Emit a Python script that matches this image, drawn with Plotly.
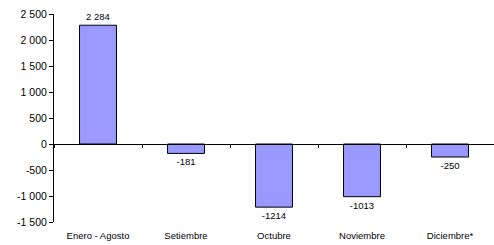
import plotly.graph_objects as go

categories = ["Enero - Agosto", "Setiembre", "Octubre", "Noviembre", "Diciembre*"]
values = [2284, -181, -1214, -1013, -250]
value_labels = ["2 284", "-181", "-1214", "-1013", "-250"]
y_tickvals = [-1500, -1000, -500, 0, 500, 1000, 1500, 2000, 2500]
y_ticktext = ["-1 500", "-1 000", "-500", "0", "500", "1 000", "1 500", "2 000", "2 500"]

y_min, y_max = -1500, 2500
zero_pos = (0 - y_min) / (y_max - y_min)

fig = go.Figure()
fig.add_trace(go.Bar(
    x=categories, y=values, text=value_labels, textposition="outside",
    textfont=dict(family="Liberation Sans, Arial", size=9.5, color="#000000"),
    marker=dict(color="#9999FF", line=dict(color="#000000", width=1)),
    width=0.42, cliponaxis=False, showlegend=False, hoverinfo="skip",
))
fig.add_trace(go.Scatter(
    x=categories, y=[None] * len(categories), xaxis="x2", yaxis="y",
    showlegend=False, hoverinfo="skip", mode="markers",
))

fig.update_layout(
    width=494, height=245,
    margin=dict(l=54, r=0, t=14, b=23, autoexpand=False),
    paper_bgcolor="white", plot_bgcolor="white",
    font=dict(family="Liberation Sans, Arial", size=10, color="#000000"),
    xaxis=dict(
        type="category", anchor="free", position=zero_pos,
        showline=True, linecolor="#000000", linewidth=1,
        ticks="outside", tickson="boundaries", ticklen=3, tickcolor="#000000",
        showticklabels=False, showgrid=False, zeroline=False,
        range=[-0.5, 4.5], automargin=False,
    ),
    xaxis2=dict(
        type="category", overlaying="x", anchor="y", side="bottom",
        showline=False, ticks="outside", ticklen=5, tickcolor="rgba(0,0,0,0)",
        showgrid=False, zeroline=False, automargin=False,
        tickfont=dict(size=9.5), range=[-0.5, 4.5],
    ),
    yaxis=dict(
        range=[y_min, y_max], tickvals=y_tickvals, ticktext=y_ticktext,
        showline=True, linecolor="#000000", linewidth=1,
        ticks="outside", ticklen=4, tickcolor="#000000", automargin=False,
        showgrid=False, zeroline=False, tickfont=dict(size=10.5),
    ),
    bargap=0.58,
)

fig.write_html("out.html", config={"displayModeBar": False},
               post_script="document.body.style.margin='0px';")
